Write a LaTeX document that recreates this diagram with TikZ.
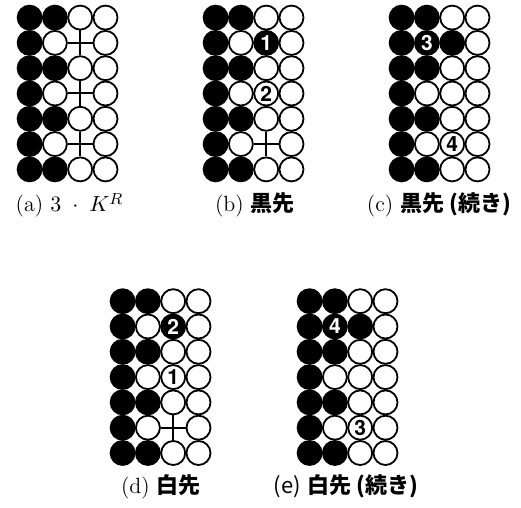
\documentclass[tikz,border=0pt]{standalone}
\usepackage{fontspec}
\newfontfamily\jpfont{Noto Sans CJK JP}
\newfontfamily\numfont{TeX Gyre Heros}
\usepackage{tikz}
\usetikzlibrary{calc}
\def\pitch{25.3}
\tikzset{
  stb/.style={circle,fill=black,draw=black,line width=0.9pt,minimum size=12pt,inner sep=0pt},
  stw/.style={circle,fill=white,draw=black,line width=0.9pt,minimum size=12pt,inner sep=0pt},
  ste/.style={circle,minimum size=12pt,inner sep=0pt},
  xline/.style={line width=1pt},
  numw/.style={font=\numfont\bfseries\fontsize{10.5}{10.5}\selectfont,text=black,inner sep=0pt},
  numb/.style={numw,text=white},
  lbl/.style={anchor=base,inner sep=0pt,font=\fontsize{11}{13}\selectfont},
}
% #1 name, #2/#3 centre of top-left stone, #4 rows (b/w/e)
\newcommand{\goboard}[4]{%
  \foreach \row [count=\r] in {#4}{%
    \foreach \s [count=\c] in \row{%
      \node[st\s] (#1-\r-\c) at ({#2+(\c-1)*\pitch},{#3+(\r-1)*\pitch}) {};}}}

\begin{document}
\begin{tikzpicture}[x=0.5pt,y=-0.5pt]
\useasboundingbox (0,0) rectangle (521,508);
% (a)
\goboard{a}{29.6}{17.6}{{b,b,w,w},{b,w,e,w},{b,b,w,w},{b,w,e,w},{b,b,w,w},{b,w,e,w},{b,b,w,w}}
\foreach \r/\u/\d in {2/1/3,4/3/5,6/5/7}{
  \draw[xline](a-\r-2)--(a-\r-4);
  \draw[xline](a-\u-3)--(a-\d-3);}
% (b)
\goboard{b}{215.6}{17.6}{{b,b,w,w},{b,w,b,w},{b,b,w,w},{b,w,w,w},{b,b,w,w},{b,w,e,w},{b,b,w,w}}
\draw[xline](b-6-2)--(b-6-4);
\draw[xline](b-5-3)--(b-7-3);
\node[numb] (b-m1) at (b-2-3) {1};
\node[numw] (b-m2) at (b-4-3) {2};
% (c)
\goboard{c}{401.6}{17.6}{{b,b,w,w},{b,b,b,w},{b,b,w,w},{b,w,w,w},{b,b,w,w},{b,w,w,w},{b,b,w,w}}
\node[numb] (c-m3) at (c-2-2) {3};
\node[numw] (c-m4) at (c-6-3) {4};
% (d)
\goboard{d}{122.6}{301.2}{{b,b,w,w},{b,w,b,w},{b,b,w,w},{b,w,w,w},{b,b,w,w},{b,w,e,w},{b,b,w,w}}
\draw[xline](d-6-2)--(d-6-4);
\draw[xline](d-5-3)--(d-7-3);
\node[numb] (d-m2) at (d-2-3) {2};
\node[numw] (d-m1) at (d-4-3) {1};
% (e)
\goboard{e}{309.6}{301.2}{{b,b,w,w},{b,b,b,w},{b,b,w,w},{b,w,w,w},{b,b,w,w},{b,w,w,w},{b,b,w,w}}
\node[numb] (e-m4) at (e-2-2) {4};
\node[numw] (e-m3) at (e-6-3) {3};
% captions
\node[lbl] (la) at (69.5,212) {(a) $3\;\cdot\;K^R$};
\node[lbl] (lb) at (255,212) {(b) {\jpfont\bfseries 黒先}};
\node[lbl] (lc) at (439,212) {(c) {\jpfont\bfseries 黒先 (続き)}};
\node[lbl] (ld) at (161,494) {(d) {\jpfont\bfseries 白先}};
\node[lbl] (le) at (346,494) {{\jpfont (e)} {\jpfont\bfseries 白先 (続き)}};
\end{tikzpicture}
\end{document}
